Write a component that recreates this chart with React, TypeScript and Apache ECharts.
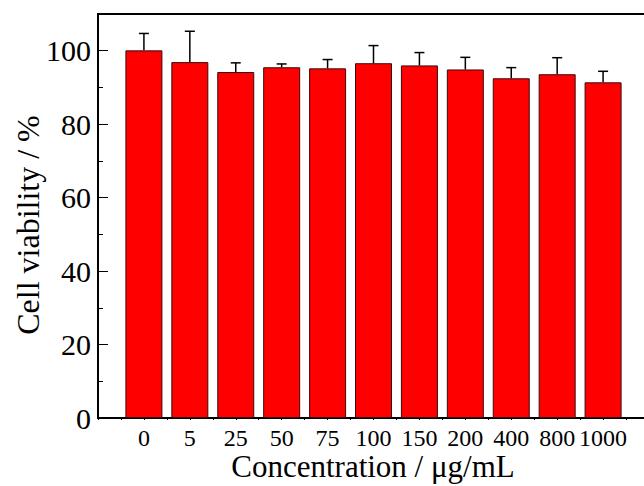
import React, { useEffect, useRef } from "react";
import * as echarts from "echarts";

const categories = ["0", "5", "25", "50", "75", "100", "150", "200", "400", "800", "1000"];
const viability = [100.1, 96.9, 94.2, 95.5, 95.2, 96.6, 96.0, 94.9, 92.5, 93.6, 91.4];
const errors = [4.6, 8.4, 2.5, 0.9, 2.4, 4.8, 3.5, 3.3, 2.9, 4.5, 3.0];
const yMajorTicks = [0, 20, 40, 60, 80, 100];

export default function App() {
  const ref = useRef<HTMLDivElement>(null);
  useEffect(() => {
    if (!ref.current) return;
    const chart = echarts.init(ref.current, undefined, { renderer: "svg" });
    const barData = viability.map((v, i) => [i + 1, v]);
    const errData = viability.map((v, i) => [i + 1, v, errors[i]]);
    chart.setOption({
      animation: false,
      grid: {
        left: 98,
        top: 14,
        bottom: 68,
        right: 15,
        show: true,
        borderColor: "#000",
        borderWidth: 2,
        backgroundColor: "transparent",
      },
      xAxis: [
        {
          type: "value",
          min: 0,
          max: 12,
          interval: 0.5,
          position: "bottom",
          splitLine: { show: false },
          axisLine: { show: true, lineStyle: { color: "#000", width: 2 } },
          axisTick: { show: true, inside: false, length: 2, lineStyle: { color: "#000", width: 1 } },
          axisLabel: {
            show: true,
            margin: 8,
            color: "#000",
            fontFamily: "Liberation Serif",
            fontSize: 24,
            formatter: (v: number) => {
              if (Number.isInteger(v) && v >= 1 && v <= categories.length) return categories[v - 1];
              return "";
            },
          },
        },
        {
          type: "value",
          min: 0,
          max: 12,
          interval: 0.5,
          position: "top",
          splitLine: { show: false },
          axisLine: { show: true, lineStyle: { color: "#000", width: 2 } },
          axisTick: { show: true, inside: true, length: 2, lineStyle: { color: "#000", width: 1 } },
          axisLabel: { show: false },
        },
      ],
      yAxis: [
        {
          type: "value",
          min: 0,
          max: 110,
          interval: 20,
          splitLine: { show: false },
          axisLine: { show: true, lineStyle: { color: "#000", width: 2 } },
          axisTick: { show: true, inside: true, length: 10, lineStyle: { color: "#000", width: 1 } },
          axisLabel: {
            show: true,
            margin: 7,
            color: "#000",
            fontFamily: "Liberation Serif",
            fontSize: 30,
            formatter: (v: number) => (yMajorTicks.includes(v) ? String(v) : ""),
          },
        },
        {
          type: "value",
          min: 0,
          max: 110,
          interval: 10,
          position: "left",
          splitLine: { show: false },
          axisLine: { show: false },
          axisTick: { show: true, inside: true, length: 5, lineStyle: { color: "#000", width: 1 } },
          axisLabel: { show: false },
        },
      ],
      graphic: [
        {
          type: "text",
          x: 28,
          y: 225,
          rotation: Math.PI / 2,
          style: {
            text: "Cell viability / %",
            fontFamily: "Liberation Serif",
            fontSize: 32,
            fill: "#000",
            align: "center",
            verticalAlign: "middle",
          },
        },
        {
          type: "text",
          x: 373,
          y: 466,
          style: {
            text: "Concentration / μg/mL",
            fontFamily: "Liberation Serif",
            fontSize: 31,
            fill: "#000",
            align: "center",
            verticalAlign: "middle",
          },
        },
      ],
      series: [
        {
          type: "bar",
          xAxisIndex: 0,
          yAxisIndex: 0,
          data: barData,
          barWidth: 37,
          itemStyle: { color: "#ff0000", borderColor: "#3a0a0a", borderWidth: 1 },
        },
        {
          type: "custom",
          xAxisIndex: 0,
          yAxisIndex: 0,
          data: errData,
          z: 10,
          renderItem: (params: any, api: any) => {
            const x = api.value(0);
            const y = api.value(1);
            const e = api.value(2);
            const p0 = api.coord([x, y]);
            const p1 = api.coord([x, y + e]);
            const half = 5;
            const style = { stroke: "#000", lineWidth: 1.5 };
            return {
              type: "group",
              children: [
                { type: "line", shape: { x1: p0[0], y1: p0[1], x2: p1[0], y2: p1[1] }, style },
                { type: "line", shape: { x1: p1[0] - half, y1: p1[1], x2: p1[0] + half, y2: p1[1] }, style },
              ],
            };
          },
        },
      ],
    });
    return () => chart.dispose();
  }, []);
  return (
    <div style={{ position: "fixed", left: 0, top: 0, width: 644, height: 486, overflow: "hidden", background: "#fff" }}>
      <div ref={ref} style={{ width: 664, height: 486 }} />
    </div>
  );
}
